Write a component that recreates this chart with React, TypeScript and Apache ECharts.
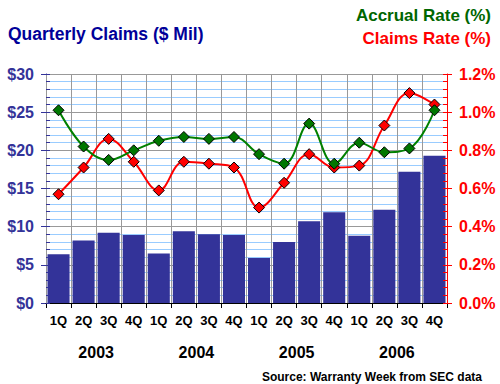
import React, { useEffect, useRef } from "react";
import * as echarts from "echarts";

const quarters = ["1Q","2Q","3Q","4Q","1Q","2Q","3Q","4Q","1Q","2Q","3Q","4Q","1Q","2Q","3Q","4Q"];
const years = ["2003", "2004", "2005", "2006"];
const claimsMil = [6.4, 8.2, 9.2, 8.9, 6.5, 9.4, 9.0, 8.9, 5.9, 8.0, 10.7, 11.9, 8.8, 12.2, 17.2, 19.3];
const accrualRate = [1.01, 0.82, 0.75, 0.80, 0.85, 0.87, 0.86, 0.87, 0.78, 0.73, 0.94, 0.73, 0.84, 0.79, 0.81, 1.01];
const claimsRate = [0.57, 0.71, 0.86, 0.74, 0.59, 0.74, 0.73, 0.71, 0.50, 0.63, 0.78, 0.71, 0.72, 0.93, 1.10, 1.04];

const FONT = "'Liberation Sans', Arial, sans-serif";
const NAVY = "#333399";

export default function App() {
  const ref = useRef<HTMLDivElement>(null);
  useEffect(() => {
    const chart = echarts.init(ref.current!, null, { renderer: "svg" });
    chart.setOption({
      animation: false,
      backgroundColor: "#ffffff",
      textStyle: { fontFamily: FONT },
      title: [
        { text: "Quarterly Claims ($ Mil)", left: 3, top: 20, textStyle: { fontFamily: FONT, fontSize: 17.5, fontWeight: "bold", color: "#000099" } },
        { text: "Accrual Rate (%)", right: 4, top: 2, textStyle: { fontFamily: FONT, fontSize: 17, fontWeight: "bold", color: "#006600" } },
        { text: "Claims Rate (%)", right: 4, top: 25, textStyle: { fontFamily: FONT, fontSize: 17, fontWeight: "bold", color: "#ff0000" } },
        { text: "Source: Warranty Week from SEC data", right: 13, top: 366, textStyle: { fontFamily: FONT, fontSize: 12, fontWeight: "bold", color: "#000000" } },
      ],
      grid: { left: 46, right: 53, top: 74, bottom: 81, containLabel: false },
      xAxis: [
        {
          type: "category",
          data: quarters,
          position: "bottom",
          axisLine: { lineStyle: { color: "#000000", width: 1 } },
          axisTick: { show: true, length: 5, lineStyle: { color: "#000000" } },
          axisLabel: { margin: 11, fontFamily: FONT, fontSize: 13, fontWeight: "bold", color: "#000000", interval: 0 },
          splitLine: { show: true, lineStyle: { color: "#999999", width: 1 } },
          z: 1,
        },
        {
          type: "category",
          data: years,
          position: "bottom",
          offset: 31,
          axisLine: { show: false },
          axisTick: { show: false },
          axisLabel: { margin: 10, fontFamily: FONT, fontSize: 16, fontWeight: "bold", color: "#000000", interval: 0 },
          splitLine: { show: false },
        },
      ],
      yAxis: [
        {
          type: "value",
          position: "left",
          min: 0,
          max: 30,
          interval: 5,
          axisLine: { show: true, lineStyle: { color: NAVY, width: 1 } },
          axisTick: { show: true, length: 5, lineStyle: { color: NAVY } },
          axisLabel: { margin: 12, fontFamily: FONT, fontSize: 16, fontWeight: "bold", color: NAVY, formatter: (v: number) => "$" + v },
          splitLine: { show: true, lineStyle: { color: "#999999", width: 1 } },
          minorTick: { show: false, splitNumber: 5 },
          minorSplitLine: { show: true, lineStyle: { color: "#99ccff", width: 1 } },
          z: 0,
        },
        {
          type: "value",
          position: "right",
          min: 0,
          max: 1.2,
          interval: 0.2,
          axisLine: { show: true, lineStyle: { color: "#ff0000", width: 1 } },
          axisTick: { show: true, length: 5, lineStyle: { color: "#ff0000" } },
          axisLabel: { margin: 12, fontFamily: FONT, fontSize: 16, fontWeight: "bold", color: "#ff0000", formatter: (v: number) => v.toFixed(1) + "%" },
          splitLine: { show: false },
          z: 3,
        },
        {
          type: "value",
          position: "left",
          min: 0,
          max: 30,
          interval: 1,
          axisLine: { show: false },
          axisTick: { show: true, inside: true, length: 4, lineStyle: { color: NAVY } },
          axisLabel: { show: false },
          splitLine: { show: false },
          z: 3,
        },
        {
          type: "value",
          position: "right",
          min: 0,
          max: 30,
          interval: 1,
          axisLine: { show: false },
          axisTick: { show: true, inside: true, length: 4, lineStyle: { color: "#ff0000" } },
          axisLabel: { show: false },
          splitLine: { show: false },
          z: 3,
        },
      ],
      series: [
        {
          name: "Quarterly Claims",
          type: "bar",
          xAxisIndex: 0,
          yAxisIndex: 0,
          data: claimsMil,
          barCategoryGap: "12%",
          itemStyle: { color: NAVY },
          z: 2,
        },
        {
          name: "Claims Rate",
          type: "line",
          xAxisIndex: 0,
          yAxisIndex: 1,
          data: claimsRate,
          smooth: 0.4,
          symbol: "diamond",
          symbolSize: 11,
          lineStyle: { color: "#ff0000", width: 2 },
          itemStyle: { color: "#ff0000", borderColor: "#000000", borderWidth: 1 },
          z: 4,
        },
        {
          name: "Accrual Rate",
          type: "line",
          xAxisIndex: 0,
          yAxisIndex: 1,
          data: accrualRate,
          smooth: 0.4,
          symbol: "diamond",
          symbolSize: 11,
          lineStyle: { color: "#008000", width: 2 },
          itemStyle: { color: "#007700", borderColor: "#000000", borderWidth: 1 },
          z: 5,
        },
      ],
    });
    return () => chart.dispose();
  }, []);
  return <div ref={ref} style={{ width: 500, height: 384, position: "fixed", left: 0, top: 0 }} />;
}
